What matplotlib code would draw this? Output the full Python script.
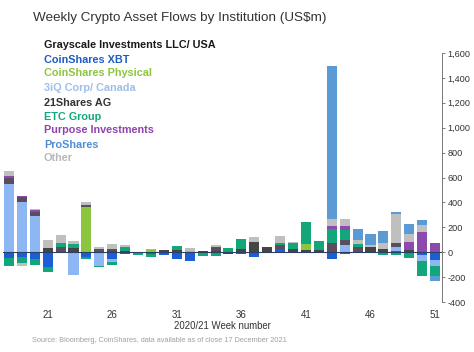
import matplotlib
matplotlib.use("Agg")
import matplotlib.pyplot as plt
import numpy as np
from matplotlib.ticker import FuncFormatter
from matplotlib import font_manager

plt.rcParams['font.family'] = ['Liberation Sans', 'DejaVu Sans']
plt.rcParams['axes.unicode_minus'] = False

_installed = {f.name for f in font_manager.fontManager.ttflist}
HAS_NARROW = 'Liberation Sans Narrow' in _installed

weeks = list(range(18, 52))
xtick_weeks = [21, 26, 31, 36, 41, 46, 51]
yticks = [-400, -200, 0, 200, 400, 600, 800, 1000, 1200, 1400, 1600]

#                 18   19   20    21  22    23   24    25   26   27   28   29   30   31   32   33   34   35   36   37   38   39   40   41   42   43    44   45   46   47   48   49    50   51
grayscale      = [0,   0,   0,    32, 0,    32,  0,    0,   11,  11,  5,   0,   18,  16,  0,   8,   12,  -16, 27,  85,  42,  0,   27,  20,  19,  0,    0,   0,   42,  25,  0,   19,  0,    0]
coinshares_xbt = [-50, -40, -56, -120, -5,  0,   -40,  0,   -53, -18, 0,   -16, -22, -58, -68, 0,   0,   0,   -16, -35, 0,   27,  0,   0,   -5,  -56,  -13, -8,  -8,  0,   13,  0,   -21,  -61]
coinshares_phys= [0,   0,   0,    0,  0,    0,   360,  0,   0,   0,   0,   16,  0,   0,   0,   0,   0,   0,   0,   0,   0,   0,   0,   45,  0,   0,    0,   0,   0,   0,   0,   0,   0,    0]
iq_canada      = [550, 400, 290,  0,  0,   -187, 0,   -107, -29, 0,   0,   10,  0,   0,   11,  0,   0,   0,   0,   0,   0,   0,   0,   0,   0,   0,    60,  0,   0,   0,   32,  0,   -53,  -48]
shares21       = [50,  45,  35,   0,  45,   0,   19,   24,  13,  0,   0,   0,   0,   0,   0,   0,   32,  0,   0,   0,   0,   27,  0,   0,   0,   72,   40,  45,  0,   0,   32,  0,   0,    0]
etc_group      = [-60, -50, -45, -40, 25,   35,  -15, -12,  -19, 29,  -22, -22, 0,   37,  0,   -30, -30, 32,  80,  0,   -5,  19,  45,  175, 67,  115,  80,  19,  0,   -21, -21, -45, -115, -85]
purpose        = [15,  8,   13,   0,  0,    0,   0,    0,   0,   0,   0,   0,   0,   0,   0,   0,   0,   0,   0,   0,   0,   0,   0,   0,   0,   24,   32,  0,   0,   0,   0,   59,  165,  77]
other          = [35,  -20, 13,   67, 67,   24,  24,   16,  40,  16,  0,   0,   0,   0,   21,  0,   12,  0,   0,   40,  0,   60,  13,  0,   0,   53,   52,  30,  18,  45,  229, 69,  50,   0]
proshares      = [0,   0,   0,    0,  0,    0,   0,    0,   0,   0,   0,   0,   0,   0,   0,   0,   0,   0,   0,   0,   0,   0,   0,   0,   0,   1234, 0,   90,  90,  101, 19,  77,  45,   -35]

names = ["Grayscale Investments LLC/ USA", "CoinShares XBT", "CoinShares Physical",
         "3iQ Corp/ Canada", "21Shares AG", "ETC Group", "Purpose Investments",
         "ProShares", "Other"]

bar_colors = {
    "Grayscale Investments LLC/ USA": "#454545",
    "CoinShares XBT": "#1c5ed6",
    "CoinShares Physical": "#8cc63f",
    "3iQ Corp/ Canada": "#8db7f2",
    "21Shares AG": "#5a4d5e",
    "ETC Group": "#14a67b",
    "Purpose Investments": "#8d4aae",
    "ProShares": "#5b9bd5",
    "Other": "#bfbfbf",
}
text_colors = {
    "Grayscale Investments LLC/ USA": "#1a1a1a",
    "CoinShares XBT": "#1f5cc4",
    "CoinShares Physical": "#8cc63f",
    "3iQ Corp/ Canada": "#9dbfea",
    "21Shares AG": "#333333",
    "ETC Group": "#13a87b",
    "Purpose Investments": "#8e44ad",
    "ProShares": "#4f8fd0",
    "Other": "#b8b8b8",
}

# stacking order (bottom to top)
stack = [
    ("Grayscale Investments LLC/ USA", grayscale),
    ("CoinShares XBT", coinshares_xbt),
    ("CoinShares Physical", coinshares_phys),
    ("3iQ Corp/ Canada", iq_canada),
    ("21Shares AG", shares21),
    ("ETC Group", etc_group),
    ("Purpose Investments", purpose),
    ("Other", other),
    ("ProShares", proshares),
]

fig = plt.figure(figsize=(4.74, 3.52), dpi=100)
ax = fig.add_axes([2.5 / 474, 50 / 352, 439 / 474, 249 / 352])

x = np.array(weeks)
pos_bottom = np.zeros(len(weeks))
neg_bottom = np.zeros(len(weeks))
for name, vals in stack:
    v = np.array(vals, dtype=float)
    p = np.where(v > 0, v, 0)
    n = np.where(v < 0, v, 0)
    ax.bar(x, p, bottom=pos_bottom, width=0.78, color=bar_colors[name], linewidth=0)
    ax.bar(x, n, bottom=neg_bottom, width=0.78, color=bar_colors[name], linewidth=0)
    pos_bottom += p
    neg_bottom += n

ax.axhline(0, color="#2e3f66", lw=0.8, zorder=3)

ax.set_xlim(17.5, 51.5)
ax.set_ylim(-400, 1600)

ax.yaxis.tick_right()
ax.set_yticks(yticks)
ax.yaxis.set_major_formatter(FuncFormatter(lambda v, p: f"{int(v):,}"))
ax.tick_params(axis="y", direction="out", length=1.8, width=0.6, color="#666666",
               labelsize=6.6, labelcolor="#333333", pad=2.5)
ax.set_xticks(xtick_weeks)
ax.set_xticklabels([str(w) for w in xtick_weeks])
ax.tick_params(axis="x", length=0, labelsize=7, labelcolor="#333333", pad=6)

for s in ["top", "left", "bottom"]:
    ax.spines[s].set_visible(False)
ax.spines["right"].set_color("#777777")
ax.spines["right"].set_linewidth(0.7)

fig.text(33 / 474, 1 - 18 / 352, r"Weekly Crypto Asset Flows by Institution (US\$m)",
         fontsize=9.7, color="#333333", va="center", ha="left")

legend_y = [45, 60, 73, 88, 103, 117, 130, 145, 158]
if HAS_NARROW:
    lfam, lsize = ['Liberation Sans Narrow', 'Liberation Sans'], 9.3
else:
    lfam, lsize = ['Liberation Sans', 'DejaVu Sans'], 7.8
for name, yy in zip(names, legend_y):
    fig.text(44 / 474, 1 - yy / 352, name, fontsize=lsize, fontweight="bold",
             family=lfam, color=text_colors[name], va="center", ha="left")

fig.text(222 / 474, 1 - 326 / 352, "2020/21 Week number", fontsize=6.9,
         color="#333333", va="center", ha="center")
fig.text(32 / 474, 1 - 340 / 352,
         "Source: Bloomberg, CoinShares, data available as of close 17 December 2021",
         fontsize=5.3, color="#a0a0a0", va="center", ha="left")

fig.savefig("out.png", dpi=100)
